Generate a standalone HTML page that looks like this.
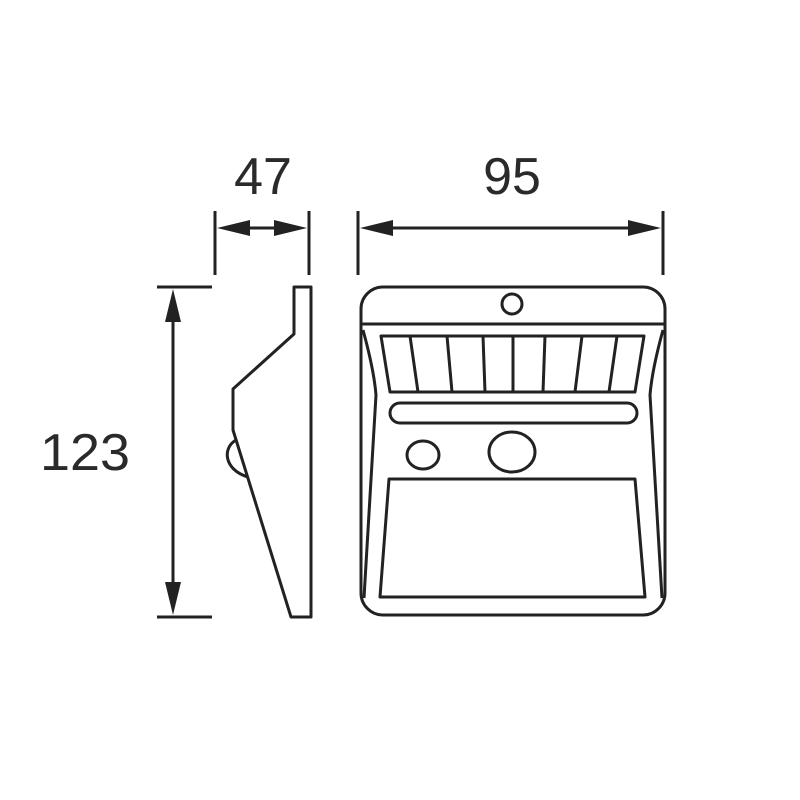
<!DOCTYPE html>
<html><head><style>html,body{margin:0;background:#fff}svg{display:block}</style></head><body>
<svg width="800" height="800" viewBox="0 0 800 800" xmlns="http://www.w3.org/2000/svg">
<g fill="none" stroke="#222" stroke-width="3" stroke-linejoin="round">
<line x1="215" y1="211" x2="215" y2="275"/>
<line x1="309" y1="211" x2="309" y2="275"/>
<line x1="230" y1="228" x2="294" y2="228"/>
<line x1="358" y1="211" x2="358" y2="275"/>
<line x1="663" y1="211" x2="663" y2="275"/>
<line x1="375" y1="228" x2="646" y2="228"/>
<line x1="157" y1="287" x2="212" y2="287"/>
<line x1="157" y1="617" x2="212" y2="617"/>
<line x1="173" y1="300" x2="173" y2="604"/>
<path d="M294,287 L311,287 L311,617 L291,617 L233,430 L233,389 L294,334 Z"/>
<path d="M236,440 C222,448 224,470 248,477"/>
<rect x="361" y="287" width="304" height="328" rx="22"/>
<line x1="361" y1="324" x2="665" y2="324"/>
<path d="M363,330 Q374,370 376,395 L364,598"/>
<path d="M663,330 Q652,370 650,395 L662,598"/>
<circle cx="512" cy="304" r="10"/>
<path d="M381,336 L644,336 L635,392 L390,392 Z"/>
<path d="M410,336 L418,392 M447,336 L452,392 M483,336 L485,392 M513,336 L513,392 M545,336 L543,392 M582,336 L575,392 M617,336 L609,392"/>
<rect x="390" y="403" width="247" height="20" rx="10"/>
<ellipse cx="423" cy="455" rx="16" ry="14"/>
<ellipse cx="512" cy="452" rx="23" ry="20"/>
<path d="M389,479 L635,479 L645,597 L380,597 Z"/>
</g>
<g fill="#222">
<polygon points="217,228 250,220 250,236"/>
<polygon points="307,228 274,220 274,236"/>
<polygon points="360,228 393,220 393,236"/>
<polygon points="661,228 628,220 628,236"/>
<polygon points="173,289 165,322 181,322"/>
<polygon points="173,615 165,582 181,582"/>
</g>
<g font-family="Liberation Sans, sans-serif" font-size="52" fill="#2a2a2a" text-anchor="middle">
<text x="263" y="194">47</text>
<text x="512" y="194">95</text>
<text x="85" y="470" textLength="90" lengthAdjust="spacingAndGlyphs">123</text>
</g>
</svg>
</body></html>
